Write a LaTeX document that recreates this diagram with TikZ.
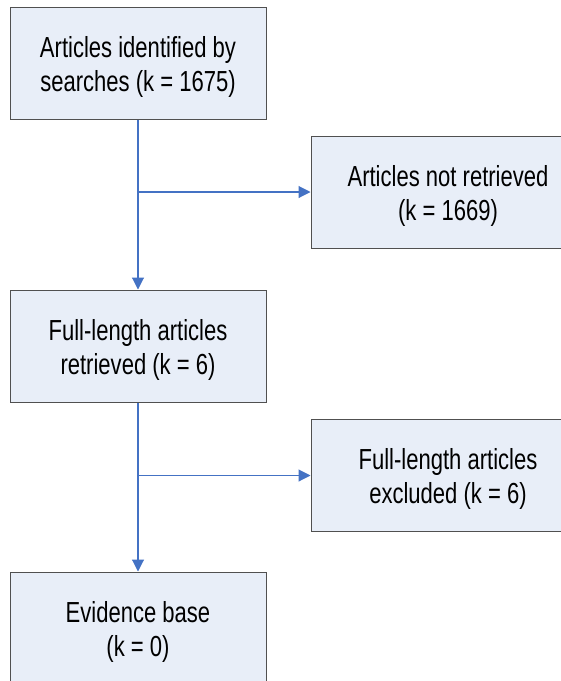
\documentclass[tikz,border=0pt]{standalone}
\usepackage{fontspec}
\setmainfont{Liberation Sans}
\newfontfamily\boxfont[FakeStretch=0.76]{Liberation Sans}
\usetikzlibrary{arrows.meta,positioning,calc}
\definecolor{boxfill}{RGB}{232,238,248}
\definecolor{boxedge}{RGB}{80,80,80}
\definecolor{flowblue}{RGB}{68,114,196}

\begin{document}
\begin{tikzpicture}[x=1pt,y=-1pt,
	box/.style={draw=boxedge, line width=1pt, fill=boxfill, rectangle, align=center,
		minimum width=256pt, minimum height=112pt, inner sep=0pt,
		text height=62pt, text depth=6pt,
		font=\boxfont\fontsize{29}{34}\selectfont},
	sidebox/.style={box, minimum width=274pt},
	flow/.style={draw=flowblue, line width=1.1pt, -{Triangle[length=12pt,width=12pt]}}]
	\useasboundingbox (0,0) rectangle (561,681);
	\clip (0,0) rectangle (561,681);
	
	% Main stream
	\node[box] (search) at (138,63) {Articles identified by\\searches (k = 1675)};
	\node[box] (full) at (138,346) {Full-length articles\\retrieved (k = 6)};
	\node[box] (base) at (138,628) {Evidence base\\(k = 0)};
	
	% Side boxes
	\node[sidebox] (notret) at (448,192) {Articles not retrieved\\(k = 1669)};
	\node[sidebox] (excl) at (448,475.5) {Full-length articles\\excluded (k = 6)};
	
	% Connections
	\draw[flow] (search) -- (full);
	\draw[flow] (search.south |- notret.west) -- (notret);
	\draw[flow] (full) -- (base);
	\draw[flow] (full.south |- excl.west) -- (excl);
\end{tikzpicture}
\end{document}
